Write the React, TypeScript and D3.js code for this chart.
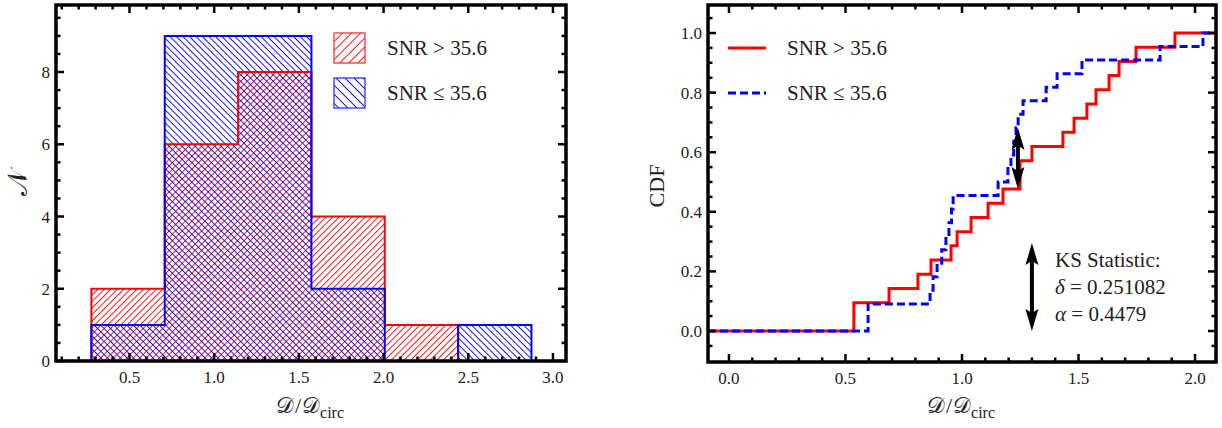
import React from 'react';
import * as d3 from 'd3';

// ---------- data ----------
const binEdges = [0.275, 0.708, 1.141, 1.574, 2.007, 2.44, 2.873];
const redCounts = [2, 6, 8, 4, 1, 0];
const blueCounts = [1, 9, 9, 2, 0, 1];
const histXTicks = [0.5, 1.0, 1.5, 2.0, 2.5, 3.0];
const histYTicks = [0, 2, 4, 6, 8];

const redSamples = [0.536, 0.536, 0.687, 0.811, 0.867, 0.953, 0.979, 1.039, 1.112, 1.176,
  1.249, 1.249, 1.300, 1.433, 1.481, 1.536, 1.575, 1.631, 1.674, 1.747, 1.914];
const blueSamples = [0.597, 0.597, 0.863, 0.876, 0.893, 0.913, 0.931, 0.944, 0.955, 0.962,
  1.155, 1.197, 1.210, 1.222, 1.232, 1.241, 1.262, 1.361, 1.408, 1.515, 1.850, 2.034];
const cdfXTicks = [0, 0.5, 1.0, 1.5, 2.0];
const cdfYTicks = [0, 0.2, 0.4, 0.6, 0.8, 1.0];

const legendLabels = ['SNR > 35.6', 'SNR \u2264 35.6'];
const ksTitle = 'KS Statistic:';
const ksDelta = '0.251082';
const ksAlpha = '0.4479';
const ksArrowX = 1.24;
const ksArrow2 = { x: 1.30, y0: 0.0, y1: 0.295 };

// ---------- layout ----------
const SERIF = "'Liberation Serif', 'Times New Roman', serif";
const SCRIPT = "'DejaVu Serif', 'DejaVu Sans', serif";

const hx = d3.scaleLinear().domain([0.066, 3.077]).range([56, 566]);
const hy = d3.scaleLinear().domain([0, 9.855]).range([361, 5]);
const cx = d3.scaleLinear().domain([-0.09, 2.09]).range([708, 1216]);
const cy = d3.scaleLinear().domain([-0.104, 1.094]).range([362, 5]);

function Frame({ xs, ys, xMajor, xMinor, yMajor, yMinor, xFmt, yFmt }: any) {
  const [x0, x1] = xs.range();
  const [yb, yt] = ys.range();
  const MJ = 8, MN = 4.5, TW = 2.5;
  const els: any[] = [];
  const near = (v: number, arr: number[]) => arr.some((a) => Math.abs(a - v) < 1e-6);
  xMinor.forEach((v: number, i: number) => {
    const L = near(v, xMajor) ? MJ : MN;
    const X = xs(v);
    els.push(<line key={'xb' + i} x1={X} x2={X} y1={yb} y2={yb - L} stroke="#000" strokeWidth={TW} />);
    els.push(<line key={'xt' + i} x1={X} x2={X} y1={yt} y2={yt + L} stroke="#000" strokeWidth={TW} />);
  });
  yMinor.forEach((v: number, i: number) => {
    const L = near(v, yMajor) ? MJ : MN;
    const Y = ys(v);
    els.push(<line key={'yl' + i} x1={x0} x2={x0 + L} y1={Y} y2={Y} stroke="#000" strokeWidth={TW} />);
    els.push(<line key={'yr' + i} x1={x1} x2={x1 - L} y1={Y} y2={Y} stroke="#000" strokeWidth={TW} />);
  });
  return (
    <g>
      {els}
      <rect x={x0} y={yt} width={x1 - x0} height={yb - yt} fill="none" stroke="#000" strokeWidth={3.5} />
      {xMajor.map((v: number) => (
        <text key={'xl' + v} x={xs(v)} y={yb + 22} textAnchor="middle" fontFamily={SERIF} fontSize={17} fill="#222">{xFmt(v)}</text>
      ))}
      {yMajor.map((v: number) => (
        <text key={'yl' + v} x={x0 - 6} y={ys(v) + 6} textAnchor="end" fontFamily={SERIF} fontSize={17} fill="#222">{yFmt(v)}</text>
      ))}
    </g>
  );
}

function histPoints(counts: number[]) {
  const pts: [number, number][] = [[binEdges[0], 0]];
  counts.forEach((c, i) => {
    pts.push([binEdges[i], c]);
    pts.push([binEdges[i + 1], c]);
  });
  pts.push([binEdges[binEdges.length - 1], 0]);
  return pts;
}

function cdfPoints(samples: number[], xmin: number, xmax: number) {
  const s = [...samples].sort((a, b) => a - b);
  const n = s.length;
  const uniq = Array.from(new Set(s));
  const pts: [number, number][] = [[xmin, 0]];
  uniq.forEach((v) => {
    const k = s.filter((t) => t <= v).length;
    pts.push([v, k / n]);
  });
  pts.push([xmax, 1]);
  return pts;
}

function DArrow({ x, y0, y1 }: { x: number; y0: number; y1: number }) {
  // y0: bottom pixel, y1: top pixel
  const HL = 22, HW = 6.5, NT = 4;
  return (
    <g fill="#000">
      <line x1={x} x2={x} y1={y1 + HL - 4} y2={y0 - HL + 4} stroke="#000" strokeWidth={4} />
      <path d={`M${x},${y1} L${x + HW},${y1 + HL} L${x},${y1 + HL - NT} L${x - HW},${y1 + HL} Z`} />
      <path d={`M${x},${y0} L${x + HW},${y0 - HL} L${x},${y0 - HL + NT} L${x - HW},${y0 - HL} Z`} />
    </g>
  );
}

function DLabel({ x, y }: { x: number; y: number }) {
  return (
    <text x={x} y={y} textAnchor="middle" fontFamily={SERIF} fontSize={22} fill="#222">
      <tspan fontFamily={SCRIPT}>{'\uD835\uDC9F'}</tspan>
      <tspan dx={1}>/</tspan>
      <tspan fontFamily={SCRIPT} dx={1}>{'\uD835\uDC9F'}</tspan>
      <tspan fontSize={16} dy={5}>circ</tspan>
    </text>
  );
}

export default function App() {
  const hLine = d3.line<[number, number]>().x((d) => hx(d[0])).y((d) => hy(d[1]));
  const redH = histPoints(redCounts);
  const blueH = histPoints(blueCounts);

  const [dx0, dx1] = cx.domain();
  const step = d3.line<[number, number]>().x((d) => cx(d[0])).y((d) => cy(d[1])).curve(d3.curveStepAfter);
  const redC = cdfPoints(redSamples, dx0, dx1);
  const blueC = cdfPoints(blueSamples, dx0, dx1);

  const redAt = (v: number) => redSamples.filter((t) => t <= v).length / redSamples.length;
  const blueAt = (v: number) => blueSamples.filter((t) => t <= v).length / blueSamples.length;

  const hxMinor = d3.range(1, 31).map((i) => i / 10);
  const hyMinor = d3.range(0, 20).map((i) => i / 2);
  const cxMinor = d3.range(0, 21).map((i) => i / 10);
  const cyMinor = d3.range(-1, 22).map((i) => i / 20);

  const fmt1 = d3.format('.1f');

  return (
    <svg width={1222} height={428} style={{ position: 'absolute', left: 0, top: 0, background: '#fff' }}>
      <defs>
        <pattern id="hatchRed" patternUnits="userSpaceOnUse" width={4.6} height={4.6} patternTransform="rotate(45)">
          <line x1={2.3} x2={2.3} y1={0} y2={4.6} stroke="#ff0000" strokeWidth={0.9} />
        </pattern>
        <pattern id="hatchBlue" patternUnits="userSpaceOnUse" width={4.6} height={4.6} patternTransform="rotate(-45)">
          <line x1={2.3} x2={2.3} y1={0} y2={4.6} stroke="#0000ff" strokeWidth={0.9} />
        </pattern>
        <pattern id="legRed" patternUnits="userSpaceOnUse" width={6.4} height={6.4} patternTransform="rotate(45)">
          <line x1={3.2} x2={3.2} y1={0} y2={6.4} stroke="#ff0000" strokeWidth={0.9} />
        </pattern>
        <pattern id="legBlue" patternUnits="userSpaceOnUse" width={6.4} height={6.4} patternTransform="rotate(-45)">
          <line x1={3.2} x2={3.2} y1={0} y2={6.4} stroke="#0000ff" strokeWidth={0.9} />
        </pattern>
      </defs>

      {/* ---------- left: histogram ---------- */}
      <path d={hLine(redH) + 'Z'} fill="url(#hatchRed)" />
      <path d={hLine(blueH) + 'Z'} fill="url(#hatchBlue)" />
      <path d={hLine(redH)!} fill="none" stroke="#ff0000" strokeWidth={2} />
      <path d={hLine(blueH)!} fill="none" stroke="#0000ff" strokeWidth={2} />
      <Frame xs={hx} ys={hy} xMajor={histXTicks} xMinor={hxMinor} yMajor={histYTicks} yMinor={hyMinor}
        xFmt={fmt1} yFmt={(v: number) => String(v)} />
      <rect x={334} y={33} width={31} height={30} fill="url(#legRed)" stroke="#ff3030" strokeWidth={1.3} />
      <rect x={334} y={78} width={31} height={30} fill="url(#legBlue)" stroke="#3030ff" strokeWidth={1.3} />
      <text x={387} y={55} fontFamily={SERIF} fontSize={21} fill="#222">{legendLabels[0]}</text>
      <text x={387} y={100} fontFamily={SERIF} fontSize={21} fill="#222">{legendLabels[1]}</text>
      <DLabel x={310} y={413} />
      <text transform="translate(27,183) rotate(-90)" textAnchor="middle" fontFamily={SCRIPT} fontSize={27} fill="#222">{'\uD835\uDCA9'}</text>

      {/* ---------- right: CDF ---------- */}
      <path d={step(redC)!} fill="none" stroke="#ff0000" strokeWidth={3} />
      <path d={step(blueC)!} fill="none" stroke="#0000ff" strokeWidth={3} strokeDasharray="8 4" />
      <DArrow x={cx(ksArrowX)} y0={cy(redAt(ksArrowX))} y1={cy(blueAt(ksArrowX))} />
      <DArrow x={cx(ksArrow2.x)} y0={cy(ksArrow2.y0)} y1={cy(ksArrow2.y1)} />
      <Frame xs={cx} ys={cy} xMajor={cdfXTicks} xMinor={cxMinor} yMajor={cdfYTicks} yMinor={cyMinor}
        xFmt={fmt1} yFmt={fmt1} />
      <line x1={728} x2={766} y1={48} y2={48} stroke="#ff0000" strokeWidth={3} />
      <line x1={728} x2={766} y1={93} y2={93} stroke="#0000ff" strokeWidth={3} strokeDasharray="8 4" />
      <text x={787} y={55} fontFamily={SERIF} fontSize={21} fill="#222">{legendLabels[0]}</text>
      <text x={787} y={100} fontFamily={SERIF} fontSize={21} fill="#222">{legendLabels[1]}</text>
      <text x={1055} y={267} fontFamily={SERIF} fontSize={21} fill="#222">{ksTitle}</text>
      <text x={1055} y={294} fontFamily={SERIF} fontSize={21} fill="#222">
        <tspan fontStyle="italic">{'\u03B4'}</tspan> = {ksDelta}
      </text>
      <text x={1055} y={321} fontFamily={SERIF} fontSize={21} fill="#222">
        <tspan fontStyle="italic">{'\u03B1'}</tspan> = {ksAlpha}
      </text>
      <DLabel x={961} y={413} />
      <text transform="translate(664,186) rotate(-90)" textAnchor="middle" fontFamily={SERIF} fontSize={22} fill="#222">CDF</text>
    </svg>
  );
}
